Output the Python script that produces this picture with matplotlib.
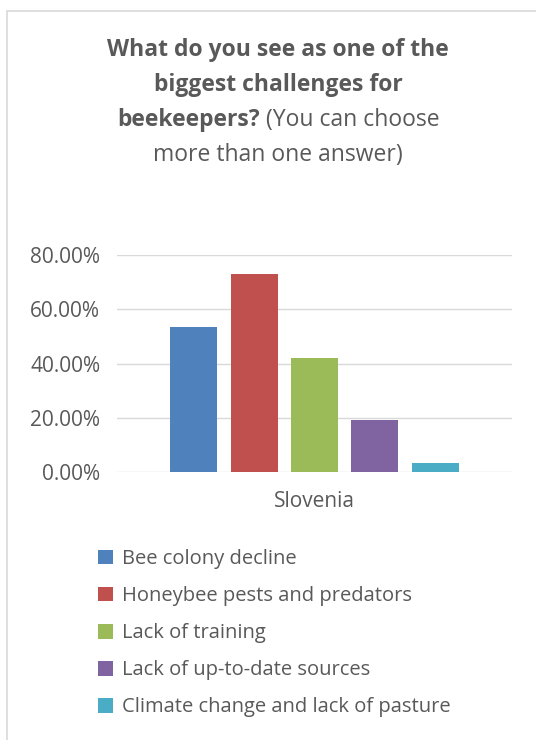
import matplotlib
matplotlib.use("Agg")
import matplotlib.pyplot as plt
from matplotlib.patches import Patch, Rectangle
from matplotlib.ticker import FuncFormatter

plt.rcParams['font.family'] = ['Open Sans', 'DejaVu Sans']

category = "Slovenia"
series = ["Bee colony decline", "Honeybee pests and predators", "Lack of training",
          "Lack of up-to-date sources", "Climate change and lack of pasture"]
values = [53.6, 72.9, 41.9, 19.1, 3.4]
colors = ['#4f81bd', '#c0504d', '#9bbb59', '#8064a2', '#4bacc6']
yticks = [0, 20, 40, 60, 80]

text_color = '#595959'
W, H = 536, 740

fig = plt.figure(figsize=(W / 100, H / 100), dpi=100)

# light frame round the chart (runs off the right and bottom edges)
fig.patches.append(Rectangle((7 / W, -0.1), 1.0, 1.1 - 11 / H, transform=fig.transFigure,
                             fill=False, edgecolor='#d9d9d9', linewidth=1.2))

ax = fig.add_axes([117 / W, 1 - 472 / H, (512 - 117) / W, (472 - 255) / H])
step = 0.153
width = 0.119
for i, (name, v, c) in enumerate(zip(series, values, colors)):
    ax.bar((i - 2) * step, v, width=width, color=c, label=name, zorder=3)

ax.set_xlim(-0.5, 0.5)
ax.set_ylim(0, 80)
ax.set_yticks(yticks)
ax.yaxis.set_major_formatter(FuncFormatter(lambda v, p: "%.2f%%" % v))
ax.set_xticks([0])
ax.set_xticklabels([category])
ax.grid(axis='y', color='#d9d9d9', linewidth=1, zorder=0)
for s in ax.spines.values():
    s.set_visible(False)
ax.tick_params(axis='both', length=0, colors=text_color, labelsize=15)
ax.tick_params(axis='y', pad=12)
ax.tick_params(axis='x', pad=14)

# title, with a mixed bold / normal third line
fig.canvas.draw()
r = fig.canvas.get_renderer()
cx = 278
tsize = 16.5
fig.text(cx / W, 1 - 50 / H, "What do you see as one of the", ha='center', va='center',
         fontsize=tsize, fontweight='bold', color=text_color)
fig.text(cx / W, 1 - 85 / H, "biggest challenges for", ha='center', va='center',
         fontsize=tsize, fontweight='bold', color=text_color)
t1 = fig.text(0, 1 - 120 / H, "beekeepers?", ha='left', va='center',
              fontsize=tsize, fontweight='bold', color=text_color)
t2 = fig.text(0, 1 - 120 / H, " (You can choose", ha='left', va='center',
              fontsize=tsize, color=text_color)
w1 = t1.get_window_extent(r).width
w2 = t2.get_window_extent(r).width
x0 = cx - (w1 + w2) / 2
t1.set_x(x0 / W)
t2.set_x((x0 + w1) / W)
fig.text(cx / W, 1 - 155 / H, "more than one answer)", ha='center', va='center',
         fontsize=tsize, color=text_color)

handles = [Patch(facecolor=c, label=n) for n, c in zip(series, colors)]
fig.legend(handles=handles, loc='upper left', bbox_to_anchor=(98 / W, 1 - 549 / H),
           frameon=False, fontsize=14.5, labelcolor=text_color, borderpad=0,
           borderaxespad=0, handlelength=0.75, handleheight=0.75, handletextpad=0.45,
           labelspacing=0.85)

fig.savefig("out.png", dpi=100)
